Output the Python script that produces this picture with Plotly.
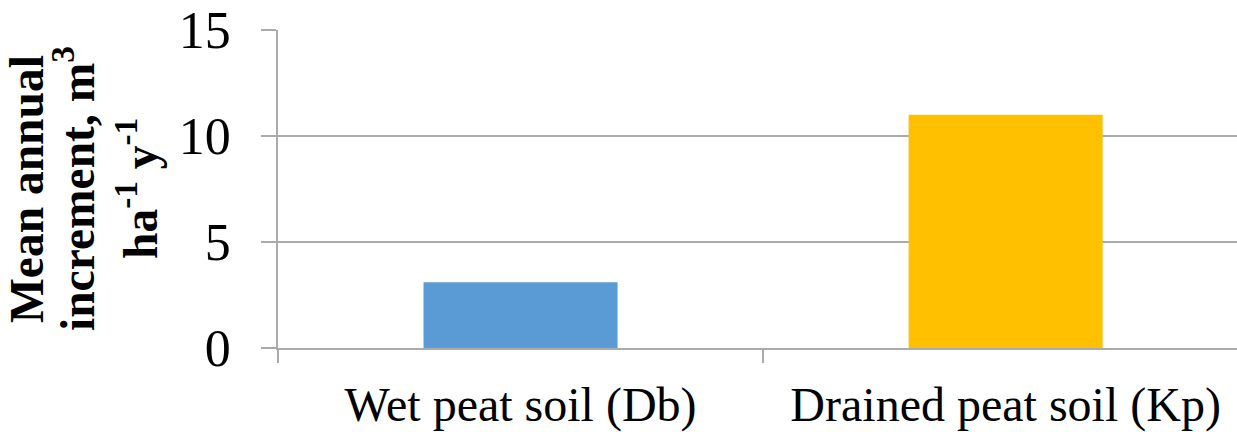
import plotly.graph_objects as go

# Chart data
categories = ["Wet peat soil (Db)", "Drained peat soil (Kp)"]
mean_increment = [3.1, 11.0]
bar_colors = ["#5B9BD5", "#FFC000"]
y_ticks = [0, 5, 10, 15]

# Y-axis title lines (bold, rotated)
title_lines = ["Mean annual", "increment, m<sup>3</sup>", "ha<sup>-1</sup> y<sup>-1</sup>"]
title_offsets = [-251, -204, -141]  # horizontal pixel offsets from plot's left edge

GRID = "#ABABAB"
FONT = "Liberation Serif"

fig = go.Figure(
    go.Bar(
        x=categories,
        y=mean_increment,
        marker=dict(color=bar_colors, line=dict(width=0)),
        width=0.4,
    )
)

fig.update_layout(
    width=1237,
    height=432,
    margin=dict(l=278, r=0, t=30, b=82),
    paper_bgcolor="white",
    plot_bgcolor="white",
    showlegend=False,
    font=dict(family=FONT, color="black"),
)

fig.update_xaxes(
    range=[-0.5, 1.477],
    showline=True,
    linecolor=GRID,
    linewidth=1.5,
    ticks="outside",
    tickson="boundaries",
    ticklen=13,
    tickcolor=GRID,
    tickwidth=1.5,
    showgrid=False,
    tickfont=dict(size=48, family=FONT, color="black"),
    ticklabelstandoff=14,
)

fig.update_yaxes(
    range=[0, 15],
    tickvals=y_ticks,
    showline=True,
    linecolor=GRID,
    linewidth=1.5,
    ticks="outside",
    ticklen=15,
    tickcolor=GRID,
    tickwidth=1.5,
    showgrid=True,
    gridcolor=GRID,
    gridwidth=1.5,
    zeroline=False,
    tickfont=dict(size=52, family=FONT, color="black"),
    ticklabelstandoff=20,
)

for text, dx in zip(title_lines, title_offsets):
    fig.add_annotation(
        text=f"<b>{text}</b>",
        xref="paper",
        yref="paper",
        x=0,
        y=0.5,
        xanchor="center",
        yanchor="middle",
        xshift=dx,
        textangle=-90,
        showarrow=False,
        font=dict(size=47.5, family=FONT, color="black"),
    )

fig.write_html("out.html")
